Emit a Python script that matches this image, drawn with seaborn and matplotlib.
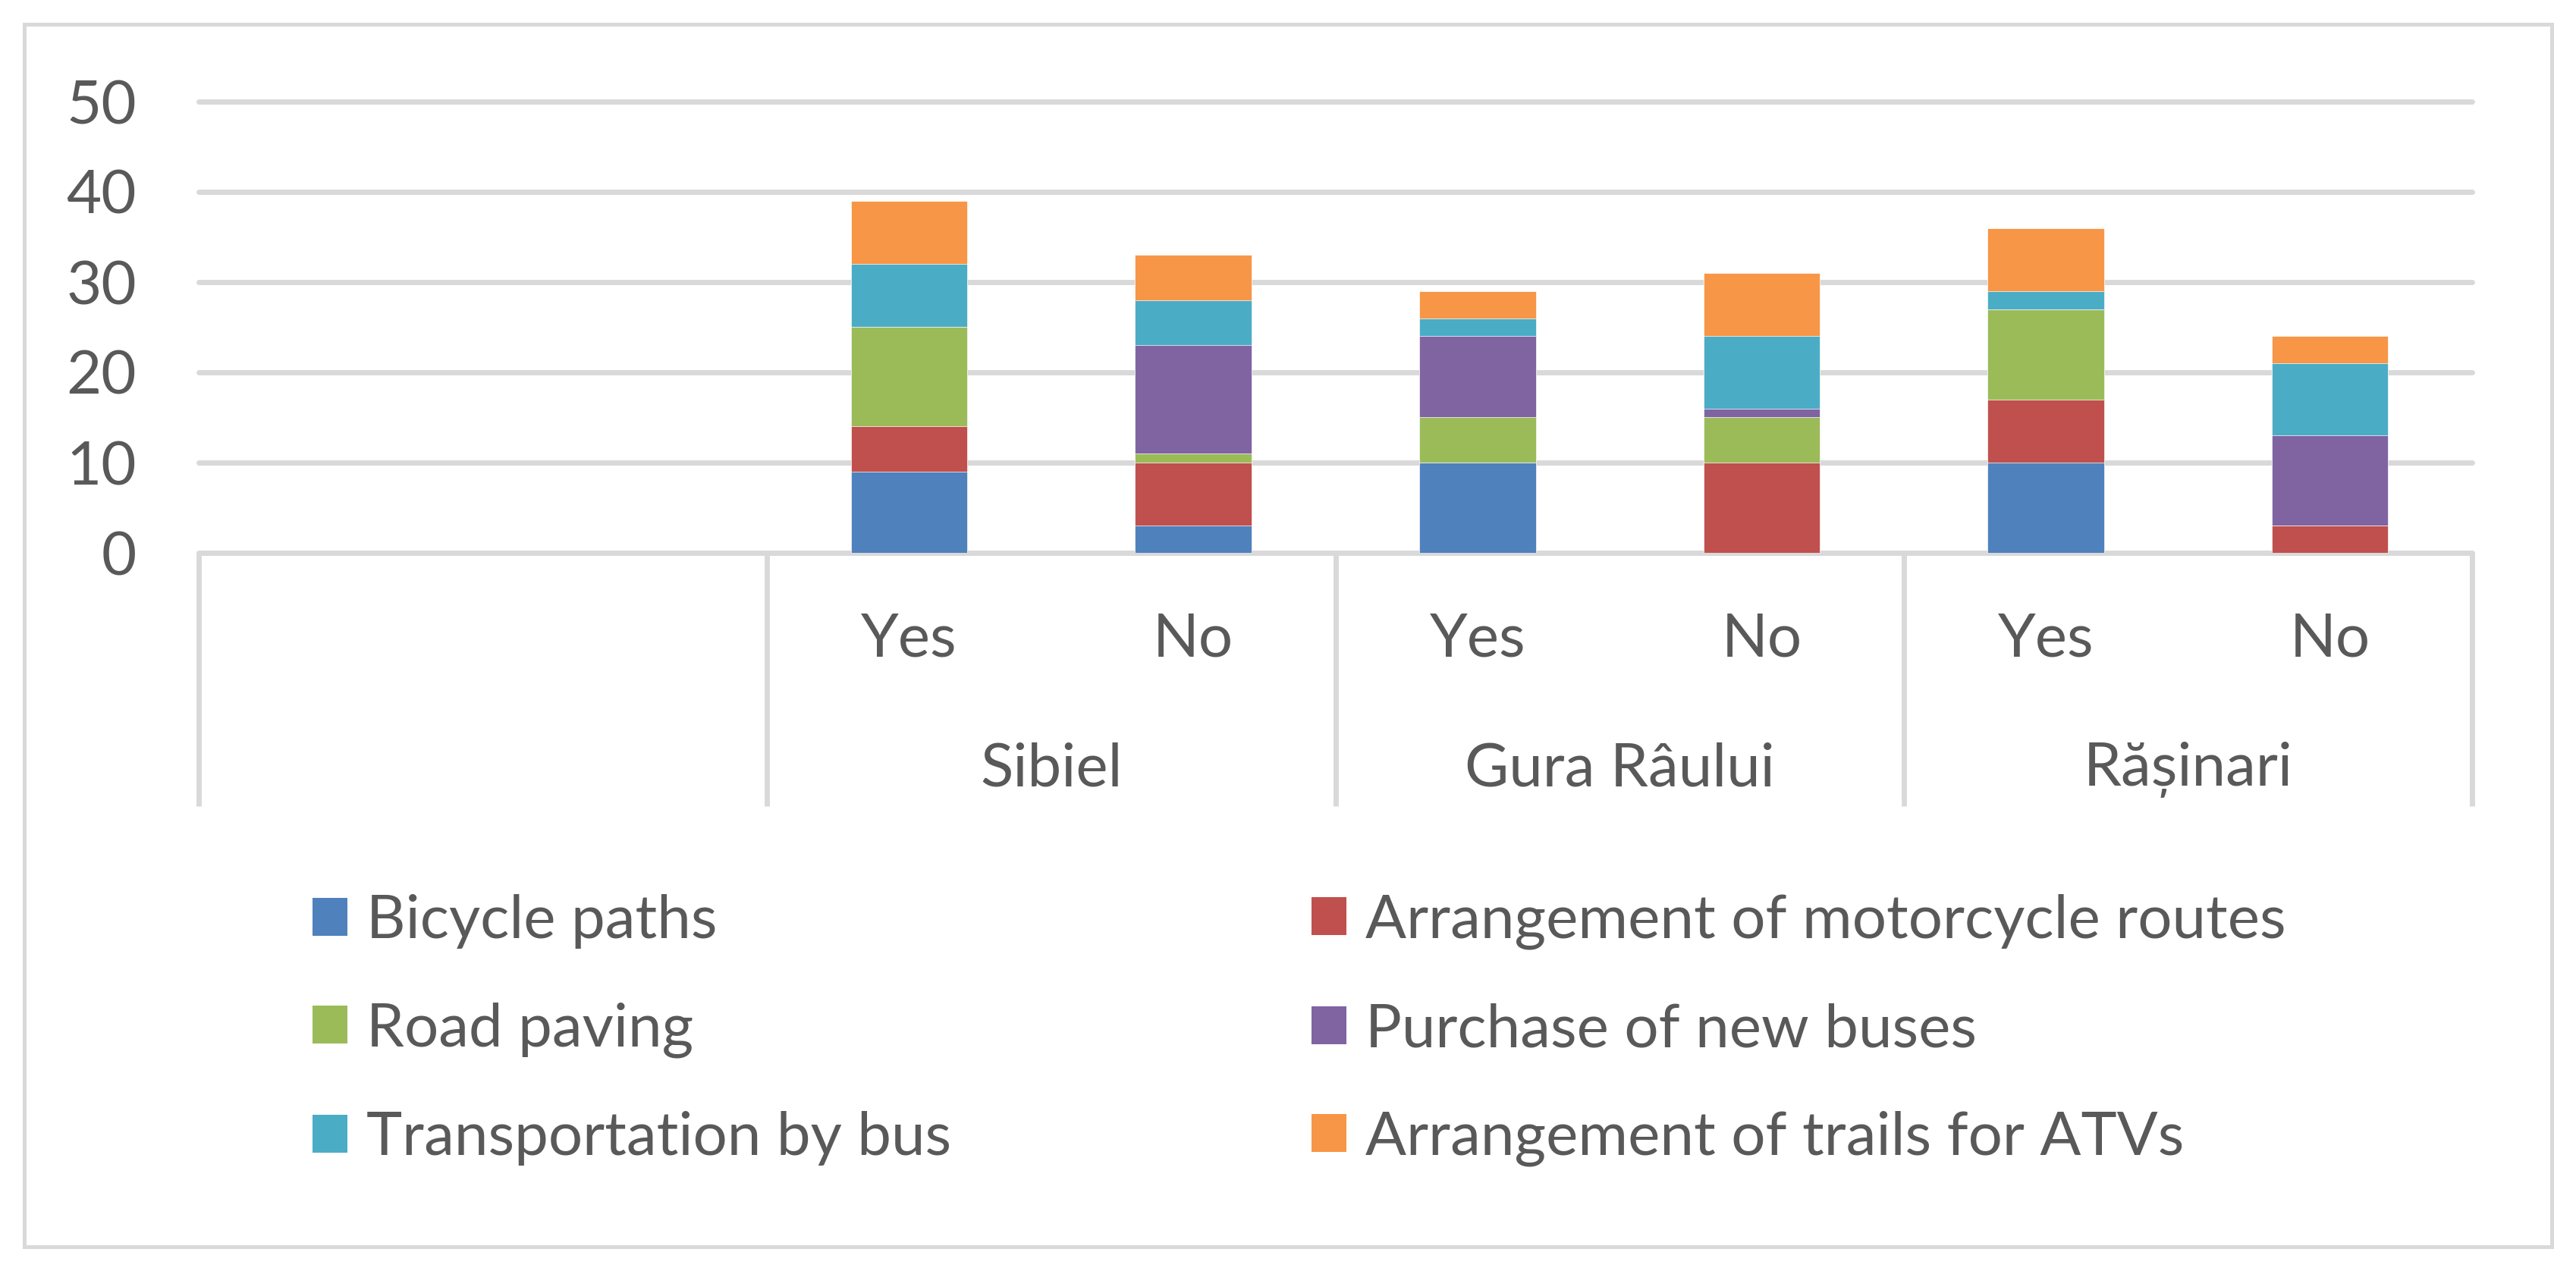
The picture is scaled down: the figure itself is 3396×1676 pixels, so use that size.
import matplotlib
matplotlib.use("Agg")
import matplotlib.pyplot as plt
from matplotlib.patches import Rectangle, Patch
import seaborn as sns
import pandas as pd

# data (stack order bottom -> top)
villages = ["Sibiel", "Gura Râului", "Rășinari"]
answers = ["Yes", "No"]
series_names = ["Bicycle paths", "Arrangement of motorcycle routes", "Road paving",
                "Purchase of new buses", "Transportation by bus", "Arrangement of trails for ATVs"]
bicycle_paths = [9, 3, 10, 0, 10, 0]
motorcycle_routes = [5, 7, 0, 10, 7, 3]
road_paving = [11, 1, 5, 5, 10, 0]
new_buses = [0, 12, 9, 1, 0, 10]
bus_transport = [7, 5, 2, 8, 2, 8]
atv_trails = [7, 5, 3, 7, 7, 3]
series_colors = ["#4F81BD", "#C0504D", "#9BBB59", "#8064A2", "#4BACC6", "#F79646"]

TXT = "#595959"
GRID = "#D9D9D9"
FS = 57.5
W, H = 3396, 1676

sns.set_theme(style="white")
plt.rcParams['font.family'] = ['Lato', 'DejaVu Sans']

keys = [f"{v}|{a}" for v in villages for a in answers]
slots = ["empty1", "empty2"] + keys
df = pd.DataFrame({"slot": keys})
for name, vals in zip(series_names, [bicycle_paths, motorcycle_routes, road_paving,
                                     new_buses, bus_transport, atv_trails]):
    df[name] = vals
cum = df[series_names].cumsum(axis=1)
cum["slot"] = df["slot"]

fig = plt.figure(figsize=(W / 100, H / 100), dpi=100)
ax = fig.add_axes([262 / W, 1 - 729 / H, (3259 - 262) / W, (729 - 134) / H])

# stacked bars: draw cumulative totals from the top series down
for name, color in reversed(list(zip(series_names, series_colors))):
    sns.barplot(data=cum, x="slot", y=name, order=slots, color=color, saturation=1,
                width=0.41, errorbar=None, ax=ax, edgecolor="white", linewidth=0.5)

ax.set_xlim(-0.5, 7.5)
ax.set_ylim(0, 50)
ax.set_yticks(range(0, 51, 10))
ax.set_xticks([])
ax.set_xlabel("")
ax.set_ylabel("")
for s in ax.spines.values():
    s.set_visible(False)
ax.set_axisbelow(True)
ax.yaxis.grid(True, color=GRID, linewidth=5)
for gl in ax.get_ygridlines():
    gl.set_clip_on(False)
ax.tick_params(axis="y", length=0, pad=59, labelsize=FS, labelcolor=TXT)

# multi-level category axis
xt = ax.get_xaxis_transform()
ax.vlines([-0.5, 1.5, 3.5, 5.5, 7.5], -0.561, 0, transform=xt, colors=GRID,
          linewidth=5, clip_on=False)
for i, k in enumerate(keys):
    ax.text(i + 2, -0.2286, k.split("|")[1], transform=xt, ha="center", va="baseline",
            fontsize=FS, color=TXT)
for j, v in enumerate(villages):
    ax.text(2.5 + 2 * j, -0.516, v, transform=xt, ha="center", va="baseline",
            fontsize=FS, color=TXT)

# legend in two columns
handles = [Patch(facecolor=c, edgecolor="none") for c in series_colors]
common = dict(loc="center left", frameon=False, fontsize=FS, handlelength=0.58,
              handleheight=0.58, handletextpad=0.31, labelspacing=0.88, borderpad=0,
              borderaxespad=0, labelcolor=TXT)
fig.legend([handles[i] for i in (0, 2, 4)], [series_names[i] for i in (0, 2, 4)],
           bbox_to_anchor=(412 / W, 1 - 1358 / H), **common)
fig.legend([handles[i] for i in (1, 3, 5)], [series_names[i] for i in (1, 3, 5)],
           bbox_to_anchor=(1729 / W, 1 - 1358 / H), **common)

# outer chart border
fig.add_artist(Rectangle((32 / W, 32 / H), (3364 - 32) / W, (1644 - 32) / H,
                         transform=fig.transFigure, fill=False, edgecolor=GRID, linewidth=3.6))

fig.savefig("out.png", dpi=100)
